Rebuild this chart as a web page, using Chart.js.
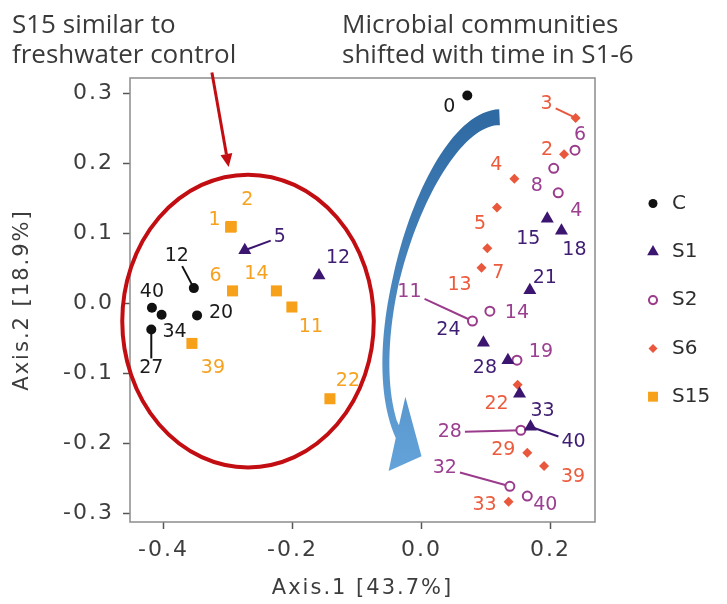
<!DOCTYPE html>
<html>
<head>
<meta charset="utf-8">
<script src="https://cdn.jsdelivr.net/npm/chart.js@4.4.1/dist/chart.umd.min.js"></script>
<style>
  html, body { margin: 0; padding: 0; background: #fff; }
</style>
</head>
<body>
<canvas id="pcoa" width="727" height="604"></canvas>
<script>
const seriesNames = ["C", "S1", "S2", "S6", "S15"];
const xTicks = [-0.4, -0.2, 0.0, 0.2];
const yTicks = [-0.3, -0.2, -0.1, 0.0, 0.1, 0.2, 0.3];

// freshwater control
const cDays = ["0", "12", "20", "40", "34", "27"];
const cX = [0.071, -0.353, -0.348, -0.418, -0.403, -0.419];
const cY = [0.297, 0.022, -0.017, -0.006, -0.016, -0.037];

const s1Days = ["5", "12", "15", "18", "21", "24", "28", "33", "40"];
const s1X = [-0.274, -0.159, 0.195, 0.217, 0.168, 0.096, 0.134, 0.152, 0.169];
const s1Y = [0.076, 0.040, 0.121, 0.104, 0.019, -0.056, -0.081, -0.129, -0.176];

const s2Days = ["6", "8", "4", "11", "14", "19", "28", "32", "40"];
const s2X = [0.238, 0.205, 0.212, 0.079, 0.106, 0.148, 0.154, 0.137, 0.164];
const s2Y = [0.219, 0.193, 0.158, -0.025, -0.011, -0.081, -0.181, -0.261, -0.275];

const s6Days = ["3", "2", "4", "5", "7", "13", "22", "29", "39", "33"];
const s6X = [0.239, 0.221, 0.144, 0.117, 0.102, 0.093, 0.149, 0.164, 0.190, 0.135];
const s6Y = [0.265, 0.213, 0.178, 0.137, 0.079, 0.051, -0.116, -0.213, -0.232, -0.283];

const s15Days = ["1", "2", "6", "14", "11", "39", "22"];
const s15X = [-0.296, -0.295, -0.293, -0.225, -0.201, -0.356, -0.142];
const s15Y = [0.109, 0.110, 0.018, 0.018, -0.005, -0.057, -0.136];

// label placement (pixels from the point) and which labels get a leader line
const cOffsets = [[-18, 12], [-17, -32], [24, -2], [0, -16], [13, 17], [0, 39]];
const s1Offsets = [[35, -13], [19, -17], [-19, 20], [13, 19], [15, -12], [-35, -13], [-23, 8], [23, 17], [43, 15]];
const s2Offsets = [[5, -15], [-17, 18], [18, 18], [-63, -29], [27, 2], [24, -8], [-71, 2], [-65, -18], [18, 9]];
const s6Offsets = [[-29, -14], [-17, -4], [-18, -14], [-17, 17], [11, 25], [-22, 17], [-21, 19], [-24, -3], [29, 11], [-24, 3]];
const s15Offsets = [[-16, -7], [16, -26], [-17, -15], [-20, -17], [19, 20], [21, 25], [18, -18]];
const cLeaders = ["12", "27"];
const s1Leaders = ["5", "40"];
const s2Leaders = ["11", "28", "32"];
const s6Leaders = ["3"];

// annotations, in data units
const ellipse = { cx: -0.269, cy: -0.025, rx: 0.195, ry: 0.209 };
const redArrow = { from: [-0.325, 0.330], to: [-0.299, 0.195] };
const sweep = {
  p0: [0.121, 0.266], p1: [0.013, 0.265], p2: [-0.103, -0.052], p3: [-0.035, -0.190],
  tip: [-0.051, -0.239], barb: [0.0, -0.218], top: [-0.025, -0.133], notch: [-0.035, -0.174]
};

const tickFont = { family: "DejaVu Sans", size: 22 };
const titleFont = { family: "DejaVu Sans", size: 21 };
const labelFont = "19px 'DejaVu Sans'";

function points(xs, ys) {
  return xs.map((x, i) => ({ x: x, y: ys[i] }));
}

const datasets = [
  { label: seriesNames[0], data: points(cX, cY), days: cDays, offsets: cOffsets, leaders: cLeaders,
    textColor: "#1a1a1a", pointStyle: "circle", pointRadius: 5,
    pointBackgroundColor: "#111111", pointBorderColor: "#111111", pointBorderWidth: 0 },
  { label: seriesNames[1], data: points(s1X, s1Y), days: s1Days, offsets: s1Offsets, leaders: s1Leaders,
    textColor: "#3f1d72", pointStyle: "triangle", pointRadius: 7.5,
    pointBackgroundColor: "#3b1570", pointBorderColor: "#3b1570", pointBorderWidth: 0 },
  { label: seriesNames[2], data: points(s2X, s2Y), days: s2Days, offsets: s2Offsets, leaders: s2Leaders,
    textColor: "#9b3f90", pointStyle: "circle", pointRadius: 4.5,
    pointBackgroundColor: "#ffffff", pointBorderColor: "#9a3b8c", pointBorderWidth: 2 },
  { label: seriesNames[3], data: points(s6X, s6Y), days: s6Days, offsets: s6Offsets, leaders: s6Leaders,
    textColor: "#ec5b3d", pointStyle: "rectRot", pointRadius: 5,
    pointBackgroundColor: "#e9583c", pointBorderColor: "#e9583c", pointBorderWidth: 0 },
  { label: seriesNames[4], data: points(s15X, s15Y), days: s15Days, offsets: s15Offsets, leaders: [],
    textColor: "#f6a21e", pointStyle: "rect", pointRadius: 7.8,
    pointBackgroundColor: "#f7a11a", pointBorderColor: "#f7a11a", pointBorderWidth: 0 }
];

function px(chart, p) {
  return [chart.scales.x.getPixelForValue(p[0]), chart.scales.y.getPixelForValue(p[1])];
}

function bez(a, b, c, d, t) {
  const u = 1 - t;
  return [
    u * u * u * a[0] + 3 * u * u * t * b[0] + 3 * u * t * t * c[0] + t * t * t * d[0],
    u * u * u * a[1] + 3 * u * u * t * b[1] + 3 * u * t * t * c[1] + t * t * t * d[1]
  ];
}

function drawSweep(chart) {
  const ctx = chart.ctx;
  const a = px(chart, sweep.p0), b = px(chart, sweep.p1), c = px(chart, sweep.p2), d = px(chart, sweep.p3);
  const tip = px(chart, sweep.tip), barb = px(chart, sweep.barb);
  const top = px(chart, sweep.top), notch = px(chart, sweep.notch);
  const n = 60, left = [], right = [];
  for (let i = 0; i <= n; i++) {
    const t = i / n;
    const p = bez(a, b, c, d, t);
    const q = bez(a, b, c, d, Math.min(1, t + 0.01));
    const r = bez(a, b, c, d, Math.max(0, t - 0.01));
    let dx = q[0] - r[0], dy = q[1] - r[1];
    const len = Math.hypot(dx, dy);
    dx /= len; dy /= len;
    const w = t < 0.6 ? 16 - 9 * (t / 0.6) : 7;
    left.push([p[0] + dy * w / 2, p[1] - dx * w / 2]);
    right.push([p[0] - dy * w / 2, p[1] + dx * w / 2]);
  }
  // outer side is the one further left at the end of the sweep
  let outer = left, inner = right;
  if (left[n][0] > right[n][0]) { outer = right; inner = left; }
  ctx.save();
  const g = ctx.createLinearGradient(0, a[1], 0, tip[1]);
  g.addColorStop(0, "#2f6aa3");
  g.addColorStop(1, "#64a3da");
  ctx.fillStyle = g;
  ctx.beginPath();
  ctx.moveTo(outer[0][0], outer[0][1]);
  outer.forEach(p => ctx.lineTo(p[0], p[1]));
  ctx.lineTo(tip[0], tip[1]);
  ctx.lineTo(barb[0], barb[1]);
  ctx.lineTo(top[0], top[1]);
  ctx.lineTo(notch[0], notch[1]);
  for (let i = n; i >= 0; i--) {
    if (inner[i][1] < notch[1] - 2) ctx.lineTo(inner[i][0], inner[i][1]);
  }
  ctx.closePath();
  ctx.fill();
  ctx.restore();
}

function drawRedMarks(chart) {
  const ctx = chart.ctx;
  const xs = chart.scales.x, ys = chart.scales.y;
  const cx = xs.getPixelForValue(ellipse.cx), cy = ys.getPixelForValue(ellipse.cy);
  const rx = Math.abs(xs.getPixelForValue(ellipse.cx + ellipse.rx) - cx);
  const ry = Math.abs(ys.getPixelForValue(ellipse.cy + ellipse.ry) - cy);
  ctx.save();
  ctx.strokeStyle = "#c20e12";
  ctx.lineWidth = 4;
  ctx.beginPath();
  ctx.ellipse(cx, cy, rx, ry, 0, 0, Math.PI * 2);
  ctx.stroke();

  const s = px(chart, redArrow.from), e = px(chart, redArrow.to);
  const ang = Math.atan2(e[1] - s[1], e[0] - s[0]);
  const head = 13, half = 6;
  const bx = e[0] - Math.cos(ang) * head, by = e[1] - Math.sin(ang) * head;
  ctx.lineWidth = 3;
  ctx.beginPath();
  ctx.moveTo(s[0], s[1]);
  ctx.lineTo(bx, by);
  ctx.stroke();
  ctx.fillStyle = "#c20e12";
  ctx.beginPath();
  ctx.moveTo(e[0], e[1]);
  ctx.lineTo(bx + Math.sin(ang) * half, by - Math.cos(ang) * half);
  ctx.lineTo(bx - Math.sin(ang) * half, by + Math.cos(ang) * half);
  ctx.closePath();
  ctx.fill();
  ctx.restore();
}

const decor = {
  id: "decor",
  beforeLayout(chart) { chart.ctx.letterSpacing = "2px"; },
  afterLayout(chart) { chart.ctx.letterSpacing = "0px"; },
  beforeDraw(chart) { chart.ctx.letterSpacing = "2px"; },
  beforeDatasetsDraw(chart) {
    const ctx = chart.ctx;
    const area = chart.chartArea;
    ctx.letterSpacing = "0px";
    ctx.save();
    ctx.strokeStyle = "#8c8c8c";
    ctx.lineWidth = 1.5;
    ctx.strokeRect(area.left, area.top, area.right - area.left, area.bottom - area.top);
    ctx.restore();

    drawSweep(chart);
    drawRedMarks(chart);

    // leader lines from label to point
    ctx.save();
    ctx.font = labelFont;
    ctx.lineWidth = 2;
    chart.data.datasets.forEach((ds, di) => {
      const meta = chart.getDatasetMeta(di);
      ds.days.forEach((day, i) => {
        if (!ds.leaders.includes(day)) return;
        const el = meta.data[i];
        const lx = el.x + ds.offsets[i][0], ly = el.y + ds.offsets[i][1];
        const dx = el.x - lx, dy = el.y - ly;
        const hw = ctx.measureText(day).width / 2 + 3, hh = 10;
        const t = Math.min(dx ? hw / Math.abs(dx) : Infinity, dy ? hh / Math.abs(dy) : Infinity);
        ctx.strokeStyle = ds.pointBorderColor;
        ctx.beginPath();
        ctx.moveTo(lx + dx * t, ly + dy * t);
        ctx.lineTo(el.x, el.y);
        ctx.stroke();
      });
    });
    ctx.restore();
  },
  afterDatasetsDraw(chart) {
    const ctx = chart.ctx;
    ctx.save();
    ctx.font = labelFont;
    ctx.textAlign = "center";
    ctx.textBaseline = "middle";
    chart.data.datasets.forEach((ds, di) => {
      const meta = chart.getDatasetMeta(di);
      ctx.fillStyle = ds.textColor;
      ds.days.forEach((day, i) => {
        const el = meta.data[i];
        ctx.fillText(day, el.x + ds.offsets[i][0], el.y + ds.offsets[i][1]);
      });
    });
    ctx.restore();
  },
  afterDraw(chart) {
    const ctx = chart.ctx;
    ctx.save();
    ctx.letterSpacing = "0px";
    // notes above the plot
    ctx.font = "26px 'Open Sans'";
    ctx.fillStyle = "#3a3a3a";
    ctx.textAlign = "left";
    ctx.textBaseline = "alphabetic";
    ctx.fillText("S15 similar to", 12, 33);
    ctx.fillText("freshwater control", 12, 63);
    ctx.fillText("Microbial communities", 342, 33);
    ctx.fillText("shifted with time in S1-6", 342, 63);

    // legend
    const top = 203.5, step = 48.3;
    ctx.font = "20px 'DejaVu Sans'";
    ctx.textBaseline = "middle";
    chart.data.datasets.forEach((ds, i) => {
      const y = top + step * i;
      ctx.fillStyle = ds.pointBackgroundColor;
      ctx.strokeStyle = ds.pointBorderColor;
      ctx.lineWidth = ds.pointBorderWidth;
      Chart.helpers.drawPoint(ctx, {
        pointStyle: ds.pointStyle,
        radius: ds.pointRadius * 0.9,
        rotation: 0,
        borderWidth: ds.pointBorderWidth
      }, 653, y);
      ctx.fillStyle = "#2e2e2e";
      ctx.fillText(ds.label, 672, y);
    });
    ctx.restore();
  }
};

new Chart(document.getElementById("pcoa"), {
  type: "scatter",
  data: { datasets: datasets },
  options: {
    responsive: false,
    animation: false,
    devicePixelRatio: 1,
    events: [],
    layout: { padding: { top: 78, right: 132, left: 0, bottom: 0 } },
    plugins: { legend: { display: false }, tooltip: { enabled: false } },
    scales: {
      x: {
        type: "linear",
        min: -0.452,
        max: 0.269,
        afterBuildTicks: (s) => { s.ticks = xTicks.map(v => ({ value: v })); },
        afterFit: (s) => { s.height = 82; },
        border: { display: false },
        grid: { drawOnChartArea: false, drawTicks: true, tickLength: 7, tickColor: "#555555", tickWidth: 1.5 },
        ticks: { font: tickFont, color: "#3d3d3d", padding: 8, maxRotation: 0, callback: (v) => v.toFixed(1) },
        title: { display: true, text: "Axis.1 [43.7%]", font: titleFont, color: "#3d3d3d", padding: { top: 0, bottom: 3 } }
      },
      y: {
        type: "linear",
        min: -0.312,
        max: 0.322,
        afterBuildTicks: (s) => { s.ticks = yTicks.map(v => ({ value: v })); },
        afterFit: (s) => { s.width = 130; },
        border: { display: false },
        grid: { drawOnChartArea: false, drawTicks: true, tickLength: 7, tickColor: "#555555", tickWidth: 1.5 },
        ticks: { font: tickFont, color: "#3d3d3d", padding: 9, callback: (v) => v.toFixed(1) },
        title: { display: true, text: "Axis.2 [18.9%]", font: titleFont, color: "#3d3d3d", padding: { top: 10, bottom: 0 } }
      }
    }
  },
  plugins: [decor]
});
</script>
</body>
</html>
